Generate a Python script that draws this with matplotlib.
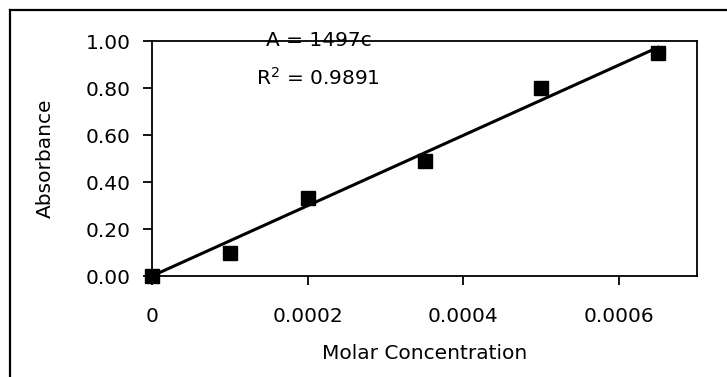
import numpy as np
import matplotlib.pyplot as plt
from matplotlib.lines import Line2D

# data
conc = [0.0, 0.0001, 0.0002, 0.00035, 0.0005, 0.00065]
absorb = [0.0, 0.10, 0.33, 0.49, 0.80, 0.95]
slope = 1497
r2 = 0.9891
xticks = [0, 0.0002, 0.0004, 0.0006]
xtick_labels = ["0", "0.0002", "0.0004", "0.0006"]
yticks = [0.0, 0.2, 0.4, 0.6, 0.8, 1.0]

plt.rcParams['font.family'] = ['DejaVu Sans']
fs = 14.5

W, H = 727, 377
fig = plt.figure(figsize=(W / 100, H / 100), dpi=100)
ax = fig.add_axes([152 / W, 1 - 276 / H, (697 - 152) / W, (276 - 41) / H])

fit_x = np.array([0, conc[-1]])
ax.plot(fit_x, slope * fit_x, color='black', lw=2.2, zorder=2)
ax.plot(conc, absorb, 's', color='black', ms=10, zorder=3, clip_on=False)

ax.set_xlim(0, 0.0007)
ax.set_ylim(0, 1.0)
ax.set_xticks(xticks)
ax.set_xticklabels(xtick_labels)
ax.set_yticks(yticks)
ax.set_yticklabels([f"{v:.2f}" for v in yticks])
ax.tick_params(axis='x', direction='out', length=6.5, width=1.3, pad=16, labelsize=fs, colors='black')
ax.tick_params(axis='y', direction='out', length=6.5, width=1.3, pad=9, labelsize=fs, colors='black')
for s in ax.spines.values():
    s.set_linewidth(1.3)
    s.set_color('black')

ax.set_xlabel("Molar Concentration", fontsize=fs)
ax.set_ylabel("Absorbance", fontsize=fs)
ax.xaxis.set_label_coords((425 - 152) / 545, (276 - 344) / 235)
ax.yaxis.set_label_coords((55 - 152) / 545, (276 - 158) / 235)

ax.text(319 / W, 1 - 41 / H, "A = %dc" % slope, transform=fig.transFigure,
        ha='center', va='center', fontsize=fs)
ax.text(318 / W, 1 - 78 / H, "R$^{2}$ = %.4f" % r2, transform=fig.transFigure,
        ha='center', va='center', fontsize=fs)

# outer chart frame (left and top)
fig.add_artist(Line2D([10 / W, 10 / W], [0, 1 - 10 / H], color='black', lw=1.6))
fig.add_artist(Line2D([10 / W, 1], [1 - 10 / H, 1 - 10 / H], color='black', lw=1.6))

fig.savefig("out.png", dpi=100)
